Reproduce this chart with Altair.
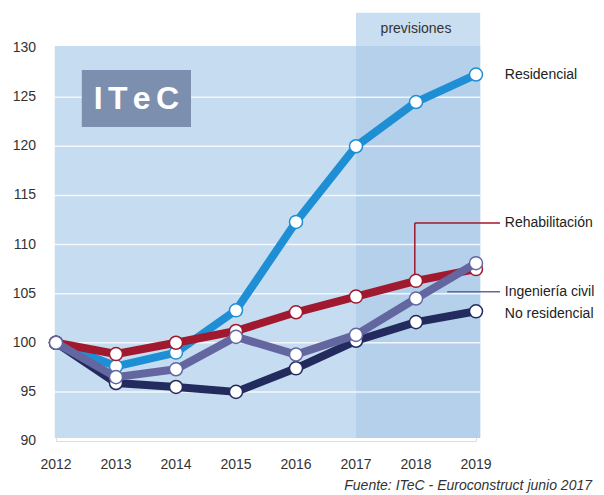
import altair as alt
import pandas as pd

years = [2012, 2013, 2014, 2015, 2016, 2017, 2018, 2019]
residencial = [100, 97.6, 99.0, 103.3, 112.3, 120.0, 124.5, 127.3]
rehabilitacion = [100, 98.85, 100.0, 101.2, 103.1, 104.7, 106.3, 107.5]
ingenieria = [100, 96.5, 97.3, 100.6, 98.8, 100.8, 104.5, 108.1]
no_residencial = [100, 95.9, 95.5, 95.0, 97.4, 100.2, 102.1, 103.2]

series_names = ["No residencial", "Residencial", "Rehabilitación", "Ingeniería civil"]
series_values = [no_residencial, residencial, rehabilitacion, ingenieria]
series_colors = ["#222a5e", "#1e8fd5", "#a0192e", "#6466a0"]

y_ticks = [90, 95, 100, 105, 110, 115, 120, 125, 130]
grid_values = [95, 100, 105, 110, 115, 120, 125]

rows = []
for name, vals in zip(series_names, series_values):
    for yr, v in zip(years, vals):
        rows.append({"year": yr, "value": v, "serie": name})
df = pd.DataFrame(rows)

X = alt.Scale(domain=[2012, 2019])
Y = alt.Scale(domain=[90, 130])

def xenc(field="x"):
    return alt.X(f"{field}:Q", scale=X, axis=None)

def yenc(field="y"):
    return alt.Y(f"{field}:Q", scale=Y, axis=None)

# backgrounds
bg = pd.DataFrame([
    {"x": 2011.98, "x2": 2019.07, "y": 90.3, "y2": 130.2, "c": "#c6dcf0"},
    {"x": 2017.0, "x2": 2019.07, "y": 90.3, "y2": 130.2, "c": "#b4d0ea"},
    {"x": 2017.0, "x2": 2019.07, "y": 130.2, "y2": 133.6, "c": "#c9def1"},
])
bg_layer = alt.Chart(bg).mark_rect(clip=False).encode(
    x=xenc("x"), x2="x2:Q", y=yenc("y"), y2="y2:Q",
    color=alt.Color("c:N", scale=None),
)

grid_df = pd.DataFrame({"y": grid_values, "x": 2011.98, "x2": 2019.07})
grid_layer = alt.Chart(grid_df).mark_rule(color="white", strokeWidth=1.5, opacity=0.8).encode(
    x=xenc("x"), x2="x2:Q", y=yenc("y")
)

# axes (tick labels)
xt = alt.Chart(pd.DataFrame({"x": years})).mark_text(
    font="Liberation Sans", fontSize=14, color="#333333", baseline="middle"
).encode(x=xenc("x"), y=alt.value(417), text=alt.Text("x:Q", format="d"))

yt = alt.Chart(pd.DataFrame({"y": y_ticks})).mark_text(
    font="Liberation Sans", fontSize=14, color="#333333", align="right", baseline="middle"
).encode(x=alt.value(-20), y=yenc("y"), text=alt.Text("y:Q", format="d"))

# ITeC logo
logo_box = alt.Chart(pd.DataFrame({"x": [2012.43], "x2": [2014.25], "y": [121.95], "y2": [127.75]})).mark_rect(
    color="#7d8fae"
).encode(x=xenc("x"), x2="x2:Q", y=yenc("y"), y2="y2:Q")
logo_text = alt.Chart(pd.DataFrame({"x": [2013.34], "y": [124.85], "t": ["I\u2006T\u2006e\u2006C"]})).mark_text(
    font="Liberation Sans", fontSize=32, fontWeight="bold", color="white", baseline="middle", align="center"
).encode(x=xenc("x"), y=yenc("y"), text="t:N")

prev_text = alt.Chart(pd.DataFrame({"x": [2018.0], "y": [131.9], "t": ["previsiones"]})).mark_text(
    font="Liberation Sans", fontSize=14, color="#333333", baseline="middle", align="center"
).encode(x=xenc("x"), y=yenc("y"), text="t:N")

layers = [bg_layer, grid_layer]
for name, color in zip(series_names, series_colors):
    base = alt.Chart(df).transform_filter(alt.datum.serie == name)
    layers.append(base.mark_line(color=color, strokeWidth=8, strokeJoin="round").encode(
        x=xenc("year"), y=yenc("value")))
    layers.append(base.mark_point(filled=True, fill="white", stroke=color, strokeWidth=1.5,
                                  size=170, opacity=1, shape="circle").encode(
        x=xenc("year"), y=yenc("value")))

# leader lines
leaders = pd.DataFrame([
    {"x": 2017.98, "x2": 2017.98, "y": 106.3, "y2": 112.2, "c": "#a0192e"},
    {"x": 2017.98, "x2": 2019.4, "y": 112.2, "y2": 112.2, "c": "#a0192e"},
    {"x": 2018.52, "x2": 2019.4, "y": 105.2, "y2": 105.2, "c": "#6466a0"},
])
leader_layer = alt.Chart(leaders).mark_rule(strokeWidth=1.5).encode(
    x=xenc("x"), x2="x2:Q", y=yenc("y"), y2="y2:Q", color=alt.Color("c:N", scale=None)
)

labels = pd.DataFrame([
    {"x": 2019.48, "y": 127.3, "t": "Residencial"},
    {"x": 2019.48, "y": 112.2, "t": "Rehabilitación"},
    {"x": 2019.48, "y": 105.2, "t": "Ingeniería civil"},
    {"x": 2019.48, "y": 102.9, "t": "No residencial"},
])
label_layer = alt.Chart(labels).mark_text(
    font="Liberation Sans", fontSize=14, color="#222222", align="left", baseline="middle"
).encode(x=xenc("x"), y=yenc("y"), text="t:N")

source = alt.Chart(pd.DataFrame({"t": ["Fuente: ITeC - Euroconstruct junio 2017"]})).mark_text(
    font="Liberation Sans", fontSize=14, fontStyle="italic", color="#333333", align="right", baseline="middle"
).encode(x=alt.value(536), y=alt.value(438), text="t:N")

chart = alt.layer(
    *layers[:2], leader_layer, *layers[2:], xt, yt, logo_box, logo_text, prev_text, label_layer, source
).properties(
    width=420, height=393,
    autosize=alt.AutoSizeParams(type="none"),
    padding={"left": 48, "top": 40, "right": 120, "bottom": 52},
).configure_view(stroke=None).configure(background="white")

chart.save("out.html", embed_options={"renderer": "svg", "actions": False})
